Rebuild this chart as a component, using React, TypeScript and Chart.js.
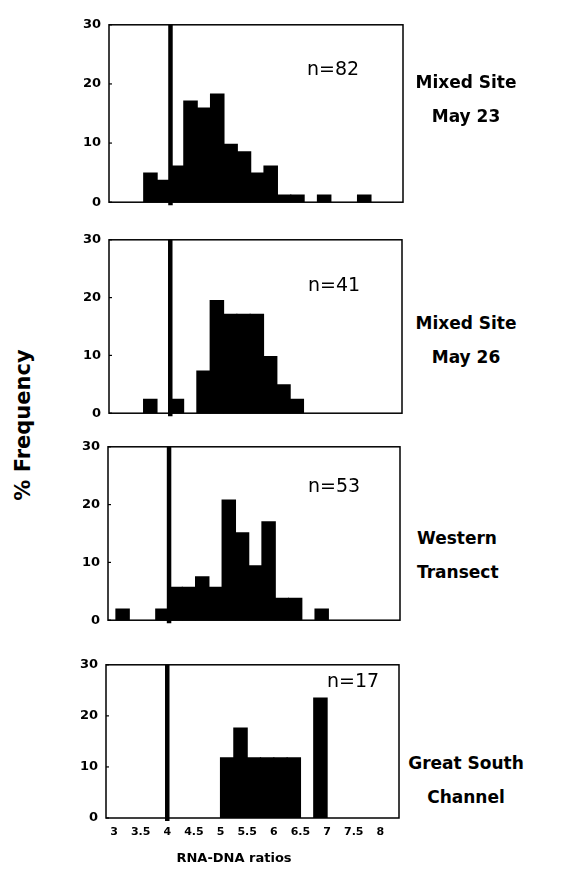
import React, { useEffect, useRef } from "react";
import { Chart, registerables } from "chart.js";
Chart.register(...registerables);

// ---- data ----
const binStarts = [3.0, 3.25, 3.5, 3.75, 4.0, 4.25, 4.5, 4.75, 5.0, 5.25, 5.5, 5.75, 6.0, 6.25, 6.5, 6.75, 7.0, 7.25, 7.5, 7.75];
const binWidth = 0.25;
const mixedMay23 = [0, 0, 4.9, 3.7, 6.1, 17.1, 15.9, 18.3, 9.8, 8.5, 4.9, 6.1, 1.2, 1.2, 0, 1.2, 0, 0, 1.2, 0];
const mixedMay26 = [0, 0, 2.4, 0, 2.4, 0, 7.3, 19.5, 17.1, 17.1, 17.1, 9.8, 4.9, 2.4, 0, 0, 0, 0, 0, 0];
const westernTransect = [1.9, 0, 0, 1.9, 5.7, 5.7, 7.5, 5.7, 20.8, 15.1, 9.4, 17.0, 3.8, 3.8, 0, 1.9, 0, 0, 0, 0];
const greatSouthChannel = [0, 0, 0, 0, 0, 0, 0, 0, 11.8, 17.6, 11.8, 11.8, 11.8, 11.8, 0, 23.5, 0, 0, 0, 0];
const sampleSizes = ["n=82", "n=41", "n=53", "n=17"];
const siteLabels = [["Mixed Site", "May 23"], ["Mixed Site", "May 26"], ["Western", "Transect"], ["Great South", "Channel"]];
const xTickValues = [3, 3.5, 4, 4.5, 5, 5.5, 6, 6.5, 7, 7.5, 8];
const xTickLabels = ["3", "3.5", "4", "4.5", "5", "5.5", "6", "6.5", "7", "7.5", "8"];
const yTickValues = [0, 10, 20, 30];
const threshold = 4;
const xAxisTitle = "RNA-DNA ratios";
const yAxisTitle = "% Frequency";

// ---- layout ----
const X_MIN = 2.85;
const X_MAX = 8.35;
const Y_AXIS_W = 60;
const PAD = 10;
const PAD_R = 8;
const X_AXIS_H = 28;
const panels = [
  { values: mixedMay23, top: 19, bottom: 208, left: 109, right: 403, nx: 307, ny: 68, lx: 466, ly: 82, align: "center" },
  { values: mixedMay26, top: 234, bottom: 419, left: 109, right: 402, nx: 308, ny: 284, lx: 466, ly: 323, align: "center" },
  { values: westernTransect, top: 441, bottom: 626, left: 108, right: 400, nx: 308, ny: 485, lx: 417, ly: 538, align: "left" },
  { values: greatSouthChannel, top: 659, bottom: 818, left: 106, right: 399, nx: 327, ny: 680, lx: 466, ly: 763, align: "center" },
];

const framePlugin = {
  id: "frame",
  afterDatasetsDraw(chart: any) {
    const { ctx, chartArea, scales } = chart;
    const { left, top, right, bottom } = chartArea;
    ctx.save();
    ctx.strokeStyle = "#000";
    ctx.lineWidth = 1.5;
    ctx.strokeRect(left, top, right - left, bottom - top);
    const y = scales.y;
    ctx.lineWidth = 1.2;
    y.ticks.forEach((t: any) => {
      const py = y.getPixelForValue(t.value);
      ctx.beginPath();
      ctx.moveTo(left, py);
      ctx.lineTo(left + 3, py);
      ctx.stroke();
    });
    const px = scales.x.getPixelForValue(threshold);
    ctx.lineWidth = 4.5;
    ctx.beginPath();
    ctx.moveTo(px, top);
    ctx.lineTo(px, bottom + 3);
    ctx.stroke();
    ctx.restore();
  },
};

function Panel({ idx }: { idx: number }) {
  const ref = useRef<HTMLCanvasElement>(null);
  const p = panels[idx];
  const last = idx === panels.length - 1;
  const w = p.right - p.left + Y_AXIS_W + PAD_R;
  const h = p.bottom - p.top + 2 * PAD + (last ? X_AXIS_H : 0);
  useEffect(() => {
    if (!ref.current) return;
    const chart = new Chart(ref.current, {
      type: "bar",
      data: {
        datasets: [
          {
            data: binStarts.map((s, i) => ({ x: s + binWidth / 2, y: p.values[i] > 0 ? p.values[i] : null })),
            backgroundColor: "#000",
            borderWidth: 0,
            inflateAmount: 0.6,
            barPercentage: 1,
            categoryPercentage: 1,
          } as any,
        ],
      },
      options: {
        animation: false,
        responsive: false,
        maintainAspectRatio: false,
        layout: { padding: { top: PAD, bottom: PAD, left: 0, right: PAD_R } },
        plugins: { legend: { display: false }, tooltip: { enabled: false }, title: { display: false } },
        scales: {
          x: {
            type: "linear",
            min: X_MIN,
            max: X_MAX,
            display: last,
            offset: false,
            grid: { display: false, drawTicks: false },
            border: { display: false },
            afterBuildTicks: (scale: any) => {
              scale.ticks = xTickValues.map((v) => ({ value: v }));
            },
            afterFit: (scale: any) => {
              scale.height = last ? X_AXIS_H : 0;
            },
            ticks: {
              padding: 8,
              maxRotation: 0,
              autoSkip: false,
              color: "#000",
              font: { family: "DejaVu Sans", weight: "bold", size: 11 },
              callback: (v: any) => {
                const i = xTickValues.indexOf(Number(v));
                return i >= 0 ? xTickLabels[i] : "";
              },
            },
          },
          y: {
            min: 0,
            max: 30,
            grid: { display: false, drawTicks: false },
            border: { display: false },
            afterBuildTicks: (scale: any) => {
              scale.ticks = yTickValues.map((v) => ({ value: v }));
            },
            afterFit: (scale: any) => {
              scale.width = Y_AXIS_W;
            },
            ticks: {
              padding: 8,
              color: "#000",
              font: { family: "DejaVu Sans", weight: "bold", size: 13 },
            },
          },
        },
      },
      plugins: [framePlugin],
    });
    return () => chart.destroy();
  }, []);
  return (
    <canvas
      ref={ref}
      width={w}
      height={h}
      style={{ position: "absolute", left: p.left - Y_AXIS_W, top: p.top - PAD, width: w, height: h }}
    />
  );
}

const textBase: React.CSSProperties = {
  position: "absolute",
  whiteSpace: "nowrap",
  lineHeight: 1,
  color: "#000",
  fontFamily: "DejaVu Sans",
};

export default function App() {
  return (
    <div style={{ position: "absolute", left: 0, top: 0, width: 561, height: 870, background: "#fff", overflow: "hidden" }}>
      {panels.map((p, i) => (
        <Panel key={i} idx={i} />
      ))}
      {panels.map((p, i) => (
        <div key={"n" + i} style={{ ...textBase, left: p.nx, top: p.ny, transform: "translateY(-50%)", fontSize: 19 }}>
          {sampleSizes[i]}
        </div>
      ))}
      {panels.map((p, i) =>
        siteLabels[i].map((line, j) => (
          <div
            key={"s" + i + j}
            style={{
              ...textBase,
              left: p.lx,
              top: p.ly + j * 34,
              transform: p.align === "center" ? "translate(-50%,-50%)" : "translateY(-50%)",
              fontSize: 17,
              fontWeight: "bold",
            }}
          >
            {line}
          </div>
        ))
      )}
      <div style={{ ...textBase, left: 23, top: 425, transform: "translate(-50%,-50%) rotate(-90deg)", fontSize: 21, fontWeight: "bold" }}>
        {yAxisTitle}
      </div>
      <div style={{ ...textBase, left: 234, top: 857, transform: "translate(-50%,-50%)", fontSize: 13, fontWeight: "bold" }}>
        {xAxisTitle}
      </div>
    </div>
  );
}
